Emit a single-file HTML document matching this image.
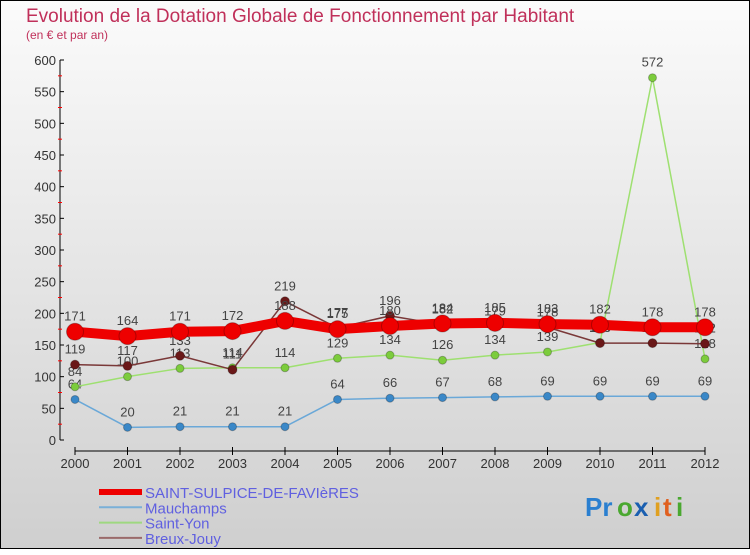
<!DOCTYPE html>
<html><head><meta charset="utf-8"><style>
html,body{margin:0;padding:0}
body{width:750px;height:550px;overflow:hidden;font-family:"Liberation Sans",sans-serif}
</style></head><body>
<svg id="chart" width="750" height="550" xmlns="http://www.w3.org/2000/svg" font-family="Liberation Sans, sans-serif">
<defs><linearGradient id="bg" x1="0" y1="0" x2="0" y2="1"><stop offset="0" stop-color="#fbfbfb"/><stop offset="1" stop-color="#cfcfcf"/></linearGradient></defs>
<rect x="0.5" y="0.5" width="749" height="548" fill="url(#bg)" stroke="#000"/>
<text x="26" y="22" font-size="19" fill="#c0305a">Evolution de la Dotation Globale de Fonctionnement par Habitant</text>
<text x="26" y="39" font-size="12" fill="#c0305a">(en € et par an)</text>
<g id="axes"></g><g id="series"></g><g id="legend"></g>
<g font-size="26" font-weight="bold">
<text x="585" y="516" fill="#2a7fd0">Pr</text><text x="617" y="516" fill="#4aa830">o</text><text x="634" y="516" fill="#1a5fb0">x</text><text x="654" y="516" fill="#e0a020">i</text><text x="663" y="516" fill="#e06020">t</text><text x="676" y="516" fill="#4aa830">i</text>
</g>
</svg>
<script>
const years=[2000,2001,2002,2003,2004,2005,2006,2007,2008,2009,2010,2011,2012];
const yTicks=[0,50,100,150,200,250,300,350,400,450,500,550,600];
const saintSulpice=[171,164,171,172,188,175,180,184,185,183,182,178,178];
const mauchamps=[64,20,21,21,21,64,66,67,68,69,69,69,69];
const saintYon=[84,100,113,114,114,129,134,126,134,139,154,572,128];
const breuxJouy=[119,117,133,111,219,177,196,182,179,178,153,153,152];
const seriesNames=["SAINT-SULPICE-DE-FAVIèRES","Mauchamps","Saint-Yon","Breux-Jouy"];
const NS="http://www.w3.org/2000/svg";
const xS=i=>75+i*(630/(years.length-1));
const yS=v=>440-v*(380/600);
function mk(tag,attrs,parent,txt){const e=document.createElementNS(NS,tag);for(const k in attrs)e.setAttribute(k,attrs[k]);if(txt!==undefined)e.textContent=txt;parent.appendChild(e);return e;}
const axes=document.getElementById('axes');
let e=mk('line',{x1:60,y1:60,x2:60,y2:440,stroke:'#000'},axes);


e=mk('line',{x1:75,y1:451,x2:705,y2:451,stroke:'#000'},axes);


yTicks.forEach(v=>{
  mk('line',{x1:60,y1:yS(v),x2:64,y2:yS(v),stroke:'#000'},axes);
  if(v<600)mk('line',{x1:58,y1:yS(v+25),x2:62,y2:yS(v+25),stroke:'#f00'},axes);
  const t=mk('text',{x:56,y:yS(v)+5,'text-anchor':'end','font-size':13,fill:'#333'},axes,v);
  
  
});
years.forEach((y,i)=>{
  mk('line',{x1:xS(i),y1:447,x2:xS(i),y2:455,stroke:'#000'},axes);
  const t=mk('text',{x:xS(i),y:468,'text-anchor':'middle','font-size':13,fill:'#333'},axes,y);
  
  
});
const sg=document.getElementById('series');
const defs=[
 {d:mauchamps,c:'#6aa8d8',dot:'#3a88c8',w:1.5,r:4,n:'mauchamps'},
 {d:saintYon,c:'#9ee070',dot:'#7ccc3c',w:1.5,r:4,n:'saint-yon'},
 {d:breuxJouy,c:'#7a3838',dot:'#6a1818',w:1.5,r:4.5,n:'breux-jouy'},
 {d:saintSulpice,c:'#ee0000',dot:'#ee0000',w:10,r:8.5,n:'saint-sulpice'}
];
defs.forEach(s=>{
  const g=mk('g',{},sg);
  
  
  const p=mk('polyline',{points:s.d.map((v,i)=>xS(i)+','+yS(v)).join(' '),fill:'none',stroke:s.c,'stroke-width':s.w,'stroke-linejoin':'round'},g);
  
  
  s.d.forEach((v,i)=>{
    const c=mk('circle',{cx:xS(i),cy:yS(v),r:s.r,fill:s.dot,stroke:'rgba(0,0,0,0.25)'},g);
    
    
    const t=mk('text',{x:xS(i),y:yS(v)-11,'text-anchor':'middle','font-size':13,fill:'#444'},g,v);
    
    
  });
});
const lg=document.getElementById('legend');
const lc=['#ee0000','#7ab0d8','#9ed880','#9a6a6a'],lw=[6,2,2,2];
seriesNames.forEach((n,i)=>{
  const y=492+i*15.3;
  const g=mk('g',{},lg);
  
  
  mk('line',{x1:99,y1:y,x2:142,y2:y,stroke:lc[i],'stroke-width':lw[i]},g);
  mk('text',{x:145,y:y+6,'font-size':15,fill:'#6060e0'},g,n);
});
</script>
</body></html>
